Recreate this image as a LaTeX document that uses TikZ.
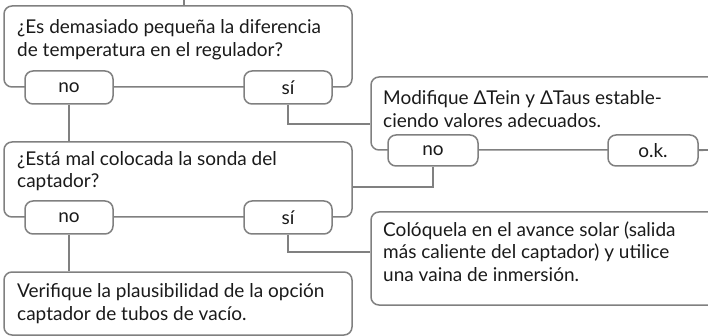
\documentclass[tikz,border=0pt]{standalone}
\usepackage{fontspec}
\setmainfont{Lato}
\definecolor{lc}{HTML}{808080}
\definecolor{tc}{HTML}{1A1A1A}
\begin{document}
\begin{tikzpicture}[x=1pt,y=-1pt,
 bigbox/.style={draw=lc, line width=1.5pt, rounded corners=8pt, inner sep=0pt},
 ansbox/.style={draw=lc, fill=white, line width=1.5pt, rounded corners=8pt, minimum width=88pt, minimum height=33pt, inner sep=0pt, text=tc, font=\fontsize{19}{22.7}\selectfont},
 txt/.style={anchor=base west, align=left, inner sep=0pt, text=tc, font=\fontsize{19}{22.7}\selectfont},
 conn/.style={draw=lc, line width=1.5pt}]
\useasboundingbox (0,0) rectangle (708,336);
\clip (0,0) rectangle (708,336);
% big boxes
\node[bigbox, minimum width=348pt, minimum height=81pt] (q1) at (178,46.5) {};
\node[bigbox, minimum width=348pt, minimum height=75pt] (q2) at (178,179.5) {};
\node[bigbox, minimum width=389pt, minimum height=73pt] (q3) at (565.5,113.5) {};
\node[bigbox, minimum width=389pt, minimum height=93pt] (q4) at (565.5,258.5) {};
\node[bigbox, minimum width=348pt, minimum height=63pt] (q5) at (178,303.5) {};
% texts (anchor = baseline of the last line)
\node[txt] (t1) at (17,56.7) {¿Es demasiado pequeña la diferencia\\de temperatura en el regulador?};
\node[txt] (t2) at (17,188) {¿Está mal colocada la sonda del\\captador?};
\node[txt] (t3) at (383,127.7) {Modifique ΔTein y ΔTaus estable-\\ciendo valores adecuados.};
\node[txt] (t4) at (383,281.5) {Colóquela en el avance solar (salida\\más caliente del captador) y utilice\\una vaina de inmersión.};
\node[txt] (t5) at (17,320) {Verifique la plausibilidad de la opción\\captador de tubos de vacío.};
% junction coordinates
\coordinate (top) at (184,0);
\coordinate (j1) at (371,124);
\coordinate (j2) at (352,187);
\coordinate (j3) at (371,252);
\coordinate (edge) at (708,150);
% answer boxes
\node[ansbox] (no1) at (69,87.5) {no};
\node[ansbox] (si1) at (288,87.5) {sí};
\node[ansbox] (no2) at (69,217.5) {no};
\node[ansbox] (si2) at (288,217.5) {sí};
\node[ansbox, minimum width=90pt, minimum height=31pt] (no3) at (433,150.5) {no};
\node[ansbox, minimum width=90pt, minimum height=31pt] (ok) at (653,150.5) {o.k.};
% connectors
\draw[conn] (top) -- (q1.north -| top);
\draw[conn] (no1.south) -- (no1.south |- q2.north);
\draw[conn] (si1.south) |- (q3.west |- j1);
\draw[conn] (no3.south) |- (q2.east |- j2);
\draw[conn] (si2.south) |- (q4.west |- j3);
\draw[conn] (no2.south) -- (no2.south |- q5.north);
\draw[conn] (ok.east) -- (edge);
\end{tikzpicture}
\end{document}
